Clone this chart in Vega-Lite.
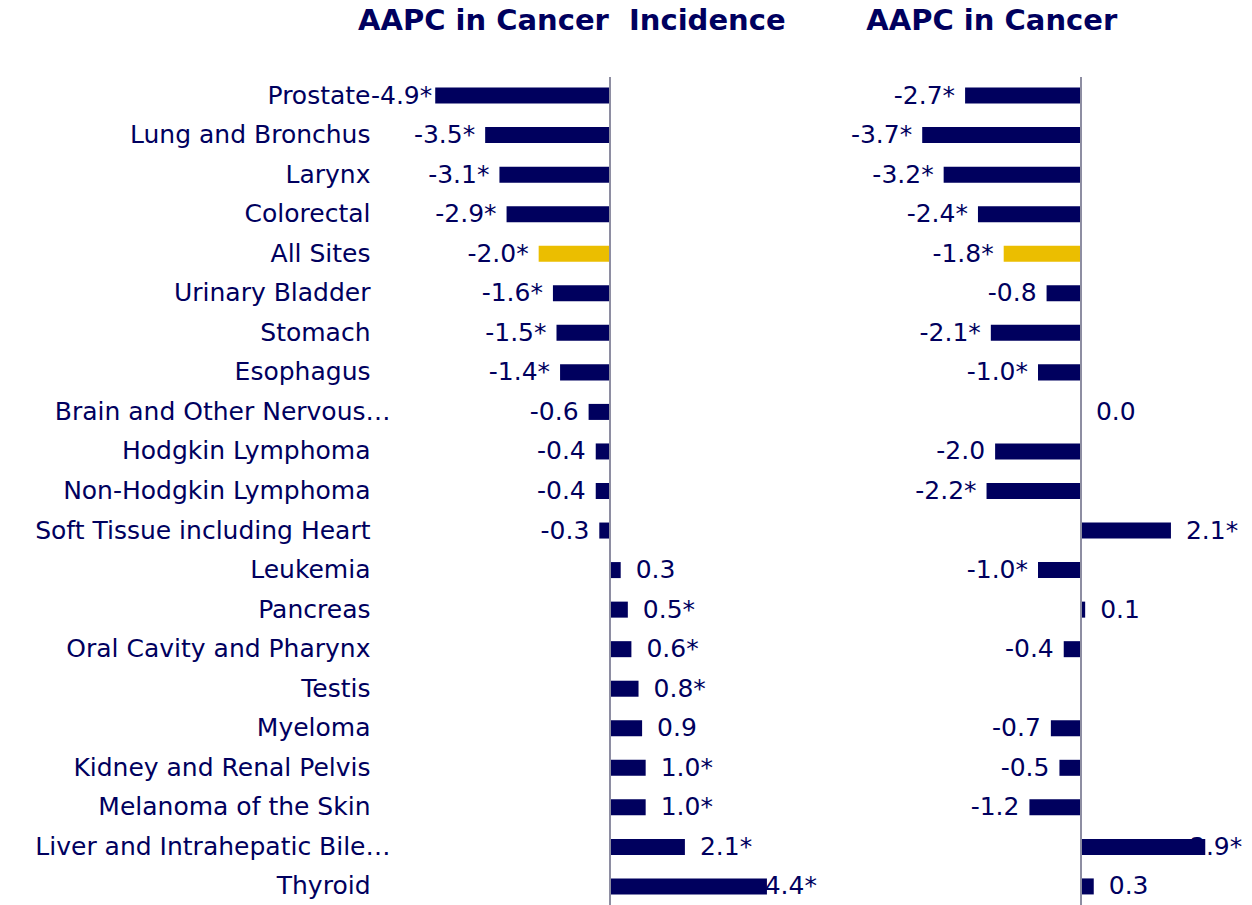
{
  "$schema": "https://vega.github.io/schema/vega-lite/v6.json",
  "width": 856,
  "height": 828,
  "autosize": {"type": "none"},
  "padding": {"left": 396, "top": 77, "right": 0, "bottom": 0},
  "background": "white",
  "config": {"view": {"stroke": null}, "font": "DejaVu Sans"},
  "title": {
    "text": "AAPC in Cancer\u00a0\u00a0Incidence\u00a0\u00a0\u00a0\u00a0\u00a0\u00a0\u00a0\u00a0AAPC in Cancer",
    "anchor": "start",
    "frame": "group",
    "dx": -38,
    "offset": 17,
    "baseline": "alphabetic",
    "font": "DejaVu Sans",
    "fontSize": 29,
    "fontWeight": "bold",
    "color": "#00005E"
  },
  "data": {
    "values": [
      {"site": "Prostate", "inc": -4.9, "incL": "-4.9*", "mort": -2.7, "mortL": "-2.7*"},
      {"site": "Lung and Bronchus", "inc": -3.5, "incL": "-3.5*", "mort": -3.7, "mortL": "-3.7*"},
      {"site": "Larynx", "inc": -3.1, "incL": "-3.1*", "mort": -3.2, "mortL": "-3.2*"},
      {"site": "Colorectal", "inc": -2.9, "incL": "-2.9*", "mort": -2.4, "mortL": "-2.4*"},
      {"site": "All Sites", "inc": -2.0, "incL": "-2.0*", "mort": -1.8, "mortL": "-1.8*"},
      {"site": "Urinary Bladder", "inc": -1.6, "incL": "-1.6*", "mort": -0.8, "mortL": "-0.8"},
      {"site": "Stomach", "inc": -1.5, "incL": "-1.5*", "mort": -2.1, "mortL": "-2.1*"},
      {"site": "Esophagus", "inc": -1.4, "incL": "-1.4*", "mort": -1.0, "mortL": "-1.0*"},
      {"site": "Brain and Other Nervous…", "inc": -0.6, "incL": "-0.6", "mort": 0.0, "mortL": "0.0"},
      {"site": "Hodgkin Lymphoma", "inc": -0.4, "incL": "-0.4", "mort": -2.0, "mortL": "-2.0"},
      {"site": "Non-Hodgkin Lymphoma", "inc": -0.4, "incL": "-0.4", "mort": -2.2, "mortL": "-2.2*"},
      {"site": "Soft Tissue including Heart", "inc": -0.3, "incL": "-0.3", "mort": 2.1, "mortL": "2.1*"},
      {"site": "Leukemia", "inc": 0.3, "incL": "0.3", "mort": -1.0, "mortL": "-1.0*"},
      {"site": "Pancreas", "inc": 0.5, "incL": "0.5*", "mort": 0.1, "mortL": "0.1"},
      {"site": "Oral Cavity and Pharynx", "inc": 0.6, "incL": "0.6*", "mort": -0.4, "mortL": "-0.4"},
      {"site": "Testis", "inc": 0.8, "incL": "0.8*", "mort": null, "mortL": null},
      {"site": "Myeloma", "inc": 0.9, "incL": "0.9", "mort": -0.7, "mortL": "-0.7"},
      {"site": "Kidney and Renal Pelvis", "inc": 1.0, "incL": "1.0*", "mort": -0.5, "mortL": "-0.5"},
      {"site": "Melanoma of the Skin", "inc": 1.0, "incL": "1.0*", "mort": -1.2, "mortL": "-1.2"},
      {"site": "Liver and Intrahepatic Bile…", "inc": 2.1, "incL": "2.1*", "mort": 2.9, "mortL": "2.9*"},
      {"site": "Thyroid", "inc": 4.4, "incL": "4.4*", "mort": 0.3, "mortL": "0.3"}
    ]
  },
  "layer": [
    {
      "layer": [
        {
          "transform": [{"filter": "datum.inc < 0"}],
          "mark": {"type": "text", "align": "right", "baseline": "middle", "dx": {"expr": "datum.inc < -4.5 ? -3 : -10"}, "fontSize": 25, "color": "#00005E", "font": "DejaVu Sans"},
          "encoding": {
            "x": {"field": "inc", "type": "quantitative", "scale": {"domain": [-6, 18], "nice": false, "zero": false}, "axis": null},
            "y": {"field": "site", "type": "nominal", "sort": null, "scale": {"paddingInner": 0.595, "paddingOuter": 0.267},
                  "axis": {"title": null, "domain": false, "ticks": false, "labelFont": "DejaVu Sans", "labelFontSize": 25, "labelColor": "#00005E", "labelLimit": 600, "labelPadding": {"condition": {"test": "indexof(datum.label, '…') >= 0", "value": 6}, "value": 26}}},
            "text": {"field": "incL"}
          }
        },
        {
          "transform": [{"filter": "datum.inc >= 0 && datum.inc < 4"}],
          "mark": {"type": "text", "align": "left", "baseline": "middle", "dx": 15, "fontSize": 25, "color": "#00005E", "font": "DejaVu Sans"},
          "encoding": {
            "x": {"field": "inc", "type": "quantitative", "scale": {"domain": [-6, 18], "nice": false, "zero": false}, "axis": null},
            "y": {"field": "site", "type": "nominal", "sort": null, "scale": {"paddingInner": 0.595, "paddingOuter": 0.267},
                  "axis": {"title": null, "domain": false, "ticks": false, "labelFont": "DejaVu Sans", "labelFontSize": 25, "labelColor": "#00005E", "labelLimit": 600, "labelPadding": {"condition": {"test": "indexof(datum.label, '…') >= 0", "value": 6}, "value": 26}}},
            "text": {"field": "incL"}
          }
        },
        {
          "transform": [{"filter": "datum.inc >= 4"}],
          "mark": {"type": "text", "align": "right", "baseline": "middle", "dx": 50, "fontSize": 25, "color": "#00005E", "font": "DejaVu Sans"},
          "encoding": {
            "x": {"field": "inc", "type": "quantitative", "scale": {"domain": [-6, 18], "nice": false, "zero": false}, "axis": null},
            "y": {"field": "site", "type": "nominal", "sort": null, "scale": {"paddingInner": 0.595, "paddingOuter": 0.267},
                  "axis": {"title": null, "domain": false, "ticks": false, "labelFont": "DejaVu Sans", "labelFontSize": 25, "labelColor": "#00005E", "labelLimit": 600, "labelPadding": {"condition": {"test": "indexof(datum.label, '…') >= 0", "value": 6}, "value": 26}}},
            "text": {"field": "incL"}
          }
        },
        {
          "mark": {"type": "bar"},
          "encoding": {
            "x": {"field": "inc", "type": "quantitative", "scale": {"domain": [-6, 18], "nice": false, "zero": false}, "axis": null},
            "y": {"field": "site", "type": "nominal", "sort": null, "scale": {"paddingInner": 0.595, "paddingOuter": 0.267},
                  "axis": {"title": null, "domain": false, "ticks": false, "labelFont": "DejaVu Sans", "labelFontSize": 25, "labelColor": "#00005E", "labelLimit": 600, "labelPadding": {"condition": {"test": "indexof(datum.label, '…') >= 0", "value": 6}, "value": 26}}},
            "color": {"condition": {"test": "datum.site === 'All Sites'", "value": "#EBBE00"}, "value": "#00005E"}
          }
        },
        {
          "mark": {"type": "rule", "color": "#8E8EA2", "strokeWidth": 1.5},
          "encoding": {"x": {"datum": 0, "type": "quantitative"}}
        }
      ]
    },
    {
      "layer": [
        {
          "transform": [{"filter": "isValid(datum.mort) && datum.mort < 0"}],
          "mark": {"type": "text", "align": "right", "baseline": "middle", "dx": -10, "fontSize": 25, "color": "#00005E", "font": "DejaVu Sans"},
          "encoding": {
            "x": {"field": "mort", "type": "quantitative", "scale": {"domain": [-15.97, 3.99], "nice": false, "zero": false}, "axis": null},
            "y": {"field": "site", "type": "nominal", "sort": null, "scale": {"paddingInner": 0.595, "paddingOuter": 0.267},
                  "axis": {"title": null, "domain": false, "ticks": false, "labelFont": "DejaVu Sans", "labelFontSize": 25, "labelColor": "#00005E", "labelLimit": 600, "labelPadding": {"condition": {"test": "indexof(datum.label, '…') >= 0", "value": 6}, "value": 26}}},
            "text": {"field": "mortL"}
          }
        },
        {
          "transform": [{"filter": "isValid(datum.mort) && datum.mort >= 0 && datum.mort < 2.5"}],
          "mark": {"type": "text", "align": "left", "baseline": "middle", "dx": 15, "fontSize": 25, "color": "#00005E", "font": "DejaVu Sans"},
          "encoding": {
            "x": {"field": "mort", "type": "quantitative", "scale": {"domain": [-15.97, 3.99], "nice": false, "zero": false}, "axis": null},
            "y": {"field": "site", "type": "nominal", "sort": null, "scale": {"paddingInner": 0.595, "paddingOuter": 0.267},
                  "axis": {"title": null, "domain": false, "ticks": false, "labelFont": "DejaVu Sans", "labelFontSize": 25, "labelColor": "#00005E", "labelLimit": 600, "labelPadding": {"condition": {"test": "indexof(datum.label, '…') >= 0", "value": 6}, "value": 26}}},
            "text": {"field": "mortL"}
          }
        },
        {
          "transform": [{"filter": "isValid(datum.mort) && datum.mort >= 2.5"}],
          "mark": {"type": "text", "align": "right", "baseline": "middle", "dx": 37, "fontSize": 25, "color": "#00005E", "font": "DejaVu Sans"},
          "encoding": {
            "x": {"field": "mort", "type": "quantitative", "scale": {"domain": [-15.97, 3.99], "nice": false, "zero": false}, "axis": null},
            "y": {"field": "site", "type": "nominal", "sort": null, "scale": {"paddingInner": 0.595, "paddingOuter": 0.267},
                  "axis": {"title": null, "domain": false, "ticks": false, "labelFont": "DejaVu Sans", "labelFontSize": 25, "labelColor": "#00005E", "labelLimit": 600, "labelPadding": {"condition": {"test": "indexof(datum.label, '…') >= 0", "value": 6}, "value": 26}}},
            "text": {"field": "mortL"}
          }
        },
        {
          "transform": [{"filter": "isValid(datum.mort)"}],
          "mark": {"type": "bar"},
          "encoding": {
            "x": {"field": "mort", "type": "quantitative", "scale": {"domain": [-15.97, 3.99], "nice": false, "zero": false}, "axis": null},
            "y": {"field": "site", "type": "nominal", "sort": null, "scale": {"paddingInner": 0.595, "paddingOuter": 0.267},
                  "axis": {"title": null, "domain": false, "ticks": false, "labelFont": "DejaVu Sans", "labelFontSize": 25, "labelColor": "#00005E", "labelLimit": 600, "labelPadding": {"condition": {"test": "indexof(datum.label, '…') >= 0", "value": 6}, "value": 26}}},
            "color": {"condition": {"test": "datum.site === 'All Sites'", "value": "#EBBE00"}, "value": "#00005E"}
          }
        },
        {
          "mark": {"type": "rule", "color": "#8E8EA2", "strokeWidth": 1.5},
          "encoding": {"x": {"datum": 0, "type": "quantitative"}}
        }
      ]
    }
  ],
  "resolve": {"scale": {"x": "independent"}}
}
